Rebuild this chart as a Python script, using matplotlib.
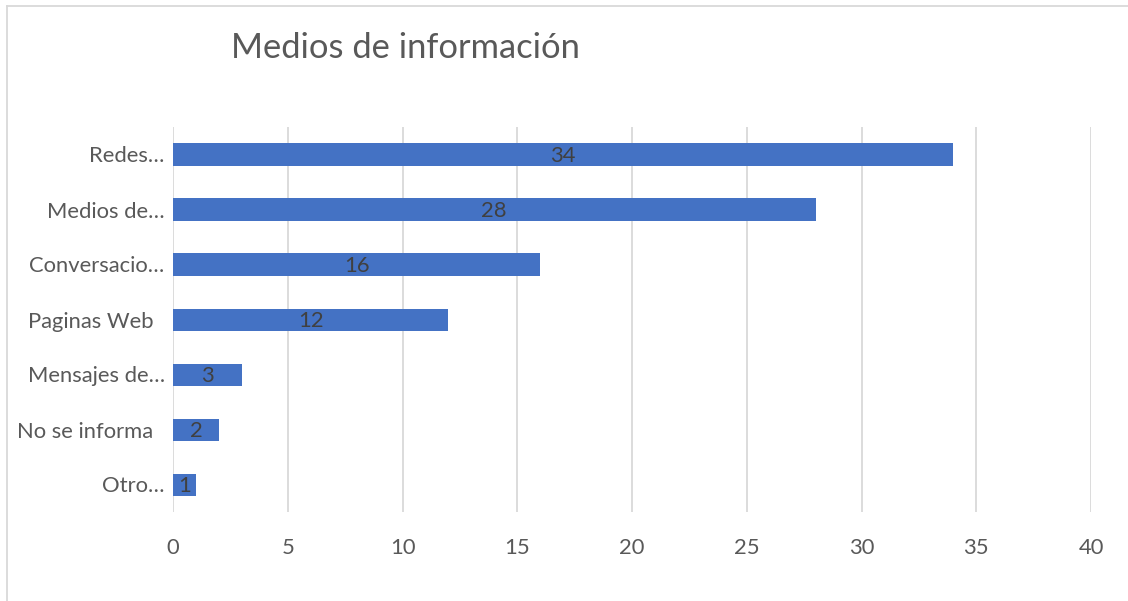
import matplotlib
matplotlib.use("Agg")
import matplotlib.pyplot as plt
from matplotlib.lines import Line2D

categories = ["Redes…", "Medios de…", "Conversacio…", "Paginas Web  ", "Mensajes de…", "No se informa  ", "Otro…"]
values = [34, 28, 16, 12, 3, 2, 1]
xticks = [0, 5, 10, 15, 20, 25, 30, 35, 40]
title = "Medios de información"

plt.rcParams['font.family'] = ['Lato', 'DejaVu Sans']

fig = plt.figure(figsize=(11.28, 6.01), dpi=100)
ax = fig.add_axes([173/1128, 1-512/601, (1091-173)/1128, (512-127)/601])

n = len(categories)
ypos = list(range(n))[::-1]
ax.barh(ypos, values, height=0.4, color="#4472C4", zorder=3)
for y, v in zip(ypos, values):
    ax.text(v/2, y - 0.03, str(v), ha="center", va="center", fontsize=15.8, color="#404040", zorder=4)

ax.set_xlim(0, 40)
ax.set_ylim(-0.5, n-0.5)
ax.set_xticks(xticks)
ax.set_xticklabels([str(t) for t in xticks])
ax.set_yticks(ypos)
ax.set_yticklabels(categories)
ax.tick_params(axis="both", length=0, labelsize=15.8, colors="#595959")
ax.tick_params(axis="x", pad=19)
ax.tick_params(axis="y", pad=6)
ax.grid(axis="x", color="#D9D9D9", linewidth=1.3, zorder=0)
for s in ax.spines.values():
    s.set_visible(False)

fig.text(231/1128, 1-48/601, title, fontsize=24.8, color="#595959", ha="left", va="center")

# outer chart border (top and left visible)
fig.add_artist(Line2D([7/1128, 1.0], [1-6/601, 1-6/601], transform=fig.transFigure, color="#D9D9D9", linewidth=1.3))
fig.add_artist(Line2D([7/1128, 7/1128], [0, 1-6/601], transform=fig.transFigure, color="#D9D9D9", linewidth=1.3))

fig.savefig("out.png", dpi=100)
